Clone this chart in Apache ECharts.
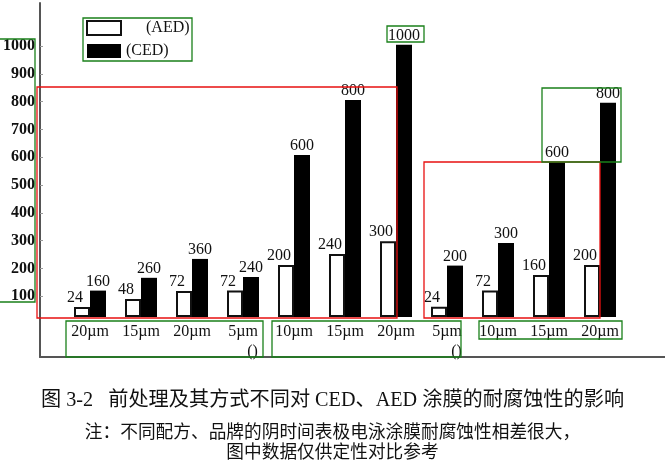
<!DOCTYPE html>
<html>
<head>
<meta charset="utf-8">
<script src="https://cdn.jsdelivr.net/npm/echarts@6/dist/echarts.min.js"></script>
<style>
html,body{margin:0;padding:0;background:#fff;}
#chart{width:665px;height:474px;}
</style>
</head>
<body>
<div id="chart"></div>
<script>
// ---- data ----
const categories = ['20µm','15µm','20µm','5µm','10µm','15µm','20µm','5µm','10µm','15µm','20µm'];
const subLabels  = ['','','','()','','','','()','','',''];
const seriesNames = ['(AED)', '(CED)'];
// bar heights as read against the drawn axis
const aedValues = [61, 90, 119, 120, 212, 252, 298, 62, 120, 176, 212];
const cedValues = [120, 166, 234, 169, 608, 806, 1005, 210, 291, 583, 796];
// value labels printed above the bars
const aedLabels = ['24','48','72','72','200','240','300','24','72','160','200'];
const cedLabels = ['160','260','360','240','600','800','1000','200','300','600','800'];
// y axis ticks
const yTickValues = [100, 200, 300, 400, 500, 600, 700, 800, 900, 1000];
const yTickLabels = ['100','200','300','400','500','600','700','800','900','1000'];
const titleLines = [
  '图 3-2   前处理及其方式不同对 CED、AED 涂膜的耐腐蚀性的影响',
  '注：不同配方、品牌的阴时间表极电泳涂膜耐腐蚀性相差很大，',
  '图中数据仅供定性对比参考'
];

const SERIF = '"Liberation Serif", "Times New Roman", serif';
const CJK = '"Liberation Serif", "Noto Sans CJK SC", serif';

const chart = echarts.init(document.getElementById('chart'));

function box(x, y, w, h, color) {
  return {
    type: 'rect', silent: true, z: 100,
    shape: { x: x, y: y, width: w, height: h },
    style: { fill: 'none', stroke: color, lineWidth: 1.3 }
  };
}
const GREEN = '#1a801a', RED = '#e81010';

const option = {
  backgroundColor: '#fff',
  animation: false,
  title: [
    { text: titleLines[0], left: 'center', top: 386, textStyle: { fontFamily: CJK, fontSize: 20.2, fontWeight: 'normal', color: '#111' } },
    { text: titleLines[1], left: 'center', top: 420, textStyle: { fontFamily: CJK, fontSize: 17.7, fontWeight: 'normal', color: '#111' } },
    { text: titleLines[2], left: 'center', top: 440, textStyle: { fontFamily: CJK, fontSize: 17.7, fontWeight: 'normal', color: '#111' } }
  ],
  legend: {
    orient: 'vertical', left: 86, top: 20, padding: 0,
    itemWidth: 34, itemHeight: 14, itemGap: 7,
    icon: 'rect',
    formatter: function (name) { return name === seriesNames[0] ? '     ' + name : name; },
    textStyle: { fontFamily: SERIF, fontSize: 16, color: '#111', lineHeight: 16 },
    data: seriesNames
  },
  grid: [
    { left: 64.5, right: 39.5, top: 3, bottom: 157 },
    { left: 37, right: 0, top: 3, bottom: 117 }
  ],
  xAxis: [
    {
      gridIndex: 0, type: 'category', data: categories,
      axisLine: { show: false }, axisTick: { show: false },
      axisLabel: {
        margin: 5, fontFamily: SERIF, fontSize: 16, color: '#111', lineHeight: 20,
        formatter: function (v, i) { return subLabels[i] ? v + '\n{r|' + subLabels[i] + '}' : v; },
        rich: { r: { align: 'right', fontFamily: SERIF, fontSize: 16, color: '#111', lineHeight: 20 } }
      }
    },
    {
      gridIndex: 1, type: 'value', min: 0, max: 1,
      axisLine: { show: true, onZero: false, lineStyle: { color: '#555', width: 2 } },
      axisTick: { show: false }, axisLabel: { show: false }, splitLine: { show: false }
    }
  ],
  yAxis: [
    { gridIndex: 0, type: 'value', min: 25, max: 1155, startValue: 25, show: false, splitLine: { show: false } },
    {
      gridIndex: 1, type: 'value', min: -119, max: 1155,
      axisLine: { show: true, onZero: false, lineStyle: { color: '#555', width: 2 } },
      axisTick: { show: true, inside: true, length: 3, customValues: yTickValues, lineStyle: { color: '#999' } },
      axisLabel: {
        customValues: yTickValues, margin: 5,
        formatter: function (v) { return yTickLabels[yTickValues.indexOf(v)]; },
        fontFamily: SERIF, fontSize: 16, fontWeight: 'bold', color: '#111'
      },
      splitLine: { show: false }
    }
  ],
  series: [
    {
      name: seriesNames[0], type: 'bar', xAxisIndex: 0, yAxisIndex: 0,
      data: aedValues, barWidth: 16, barGap: '0%',
      itemStyle: { color: '#fff', borderColor: '#111', borderWidth: 2 },
      label: {
        show: true, position: 'top', distance: 1, offset: [-7, 0],
        formatter: function (p) { return aedLabels[p.dataIndex]; },
        fontFamily: SERIF, fontSize: 16, color: '#111'
      }
    },
    {
      name: seriesNames[1], type: 'bar', xAxisIndex: 0, yAxisIndex: 0,
      data: cedValues, barWidth: 16, barGap: '0%',
      itemStyle: { color: '#000' },
      label: {
        show: true, position: 'top', distance: 1,
        formatter: function (p) { return cedLabels[p.dataIndex]; },
        fontFamily: SERIF, fontSize: 16, color: '#111'
      }
    }
  ],
  graphic: [
    box(-2, 39, 37, 263, GREEN),
    box(37, 87, 360, 231, RED),
    box(424, 162, 176, 156, RED),
    box(387, 26, 37, 16, GREEN),
    box(542, 88, 79, 74, GREEN),
    box(66, 321, 197, 36, GREEN),
    box(272, 321, 189, 36, GREEN),
    box(479, 321, 143, 18, GREEN),
    box(83, 18, 109, 43, GREEN)
  ]
};
chart.setOption(option);
</script>
</body>
</html>
